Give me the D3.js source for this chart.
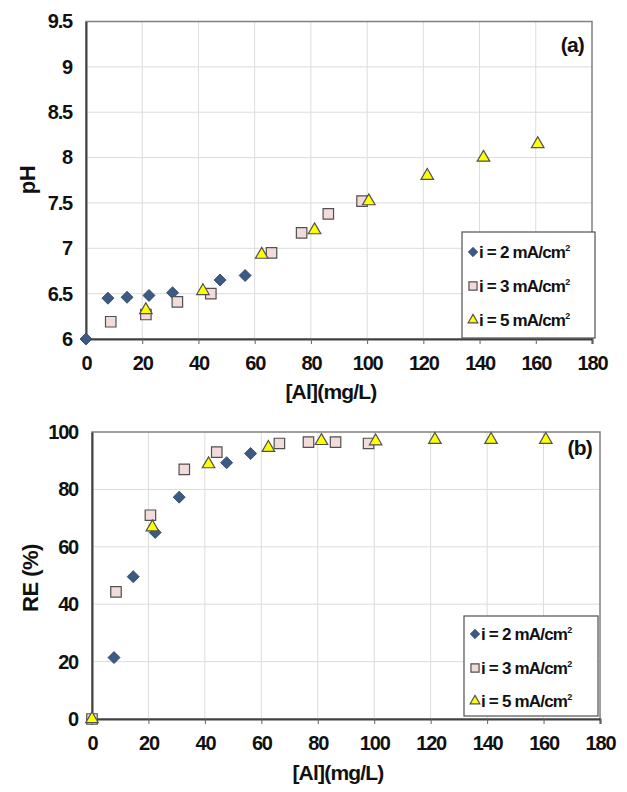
<!DOCTYPE html>
<html><head><meta charset="utf-8">
<script src="https://cdn.jsdelivr.net/npm/d3@7"></script>
<style>
body{margin:0;background:#fff;}
svg{display:block;}
text{font-family:"Liberation Sans",Arial,sans-serif;font-weight:bold;fill:#111;}
</style></head><body>
<svg id="c" width="627" height="792"></svg>
<script>
// ---- Data ----
const seriesNames = ["i = 2 mA/cm²", "i = 3 mA/cm²", "i = 5 mA/cm²"];
// Panel (a): pH vs [Al]
const phAl_i2 = [0, 7.8, 14.6, 22.4, 30.8, 47.7, 56.6];
const ph_i2   = [6.00, 6.45, 6.46, 6.48, 6.51, 6.65, 6.70];
const phAl_i3 = [8.8, 21.3, 32.5, 44.4, 66.0, 76.7, 86.2, 98.2];
const ph_i3   = [6.19, 6.27, 6.41, 6.50, 6.95, 7.17, 7.38, 7.52];
const phAl_i5 = [21.3, 41.6, 62.5, 81.3, 100.6, 121.4, 141.4, 160.7];
const ph_i5   = [6.32, 6.53, 6.93, 7.20, 7.52, 7.80, 8.00, 8.15];
// Panel (b): RE vs [Al]
const reAl_i2 = [0, 7.8, 14.6, 22.4, 30.9, 47.7, 56.2];
const re_i2   = [0, 21.4, 49.6, 65.0, 77.3, 89.3, 92.5];
const reAl_i3 = [0, 8.5, 20.7, 32.7, 44.2, 66.4, 76.7, 86.3, 98.0];
const re_i3   = [0, 44.3, 71.0, 87.0, 93.0, 96.0, 96.5, 96.5, 96.0];
const reAl_i5 = [0, 21.4, 41.3, 62.5, 81.3, 100.5, 121.5, 141.4, 160.8];
const re_i5   = [0, 66.8, 88.8, 94.5, 96.9, 96.8, 97.3, 97.3, 97.3];
// Ticks
const xTicks = [0,20,40,60,80,100,120,140,160,180];
const phTicks = [6,6.5,7,7.5,8,8.5,9,9.5];
const reTicks = [0,20,40,60,80,100];

const svg = d3.select("#c");
const zip = (xs, ys) => xs.map((x,i)=>({x, y: ys[i]}));

const markerStyles = [
  {type: d3.symbolSquare, size: 72, rot: 45, fill: "#3b5b84", stroke: "#2a4363", sw: 0.8},
  {type: d3.symbolSquare, size: 110, rot: 0, fill: "#f2dcdb", stroke: "#505050", sw: 1.2},
  {type: d3.symbolTriangle, size: 68, rot: 0, fill: "#ffff00", stroke: "#505050", sw: 1.2}
];

function drawPanel(cfg) {
  const x = d3.scaleLinear().domain([0,180]).range([cfg.left, cfg.right]);
  const y = d3.scaleLinear().domain(cfg.yDomain).range([cfg.bottom, cfg.top]);
  const g = svg.append("g");
  // gridlines
  g.append("g").selectAll("line").data(xTicks.slice(1,-1)).join("line")
    .attr("x1", d=>x(d)).attr("x2", d=>x(d)).attr("y1", cfg.top).attr("y2", cfg.bottom)
    .attr("stroke", "#dcdcdc").attr("stroke-width", 1);
  g.append("g").selectAll("line").data(cfg.yTicks.slice(1,-1)).join("line")
    .attr("x1", cfg.left).attr("x2", cfg.right).attr("y1", d=>y(d)).attr("y2", d=>y(d))
    .attr("stroke", "#dcdcdc").attr("stroke-width", 1);
  // frame (top/right)
  g.append("rect").attr("x", cfg.left).attr("y", cfg.top)
    .attr("width", cfg.right-cfg.left).attr("height", cfg.bottom-cfg.top)
    .attr("fill","none").attr("stroke","#808080").attr("stroke-width",1.5);
  // axes
  const xAxis = d3.axisBottom(x).tickValues(xTicks).tickSize(5).tickPadding(12).tickFormat(d3.format("d"));
  const xa = g.append("g").attr("transform", `translate(0,${cfg.bottom})`).call(xAxis);
  xa.select(".domain").attr("stroke","#404040").attr("stroke-width",2);
  xa.selectAll(".tick line").attr("stroke","#606060").attr("stroke-width",1);
  xa.selectAll("text").attr("font-size", 20).attr("letter-spacing", "-1.2")
    .attr("font-family", null).attr("fill","#111");
  const yAxis = d3.axisLeft(y).tickValues(cfg.yTicks).tickSize(0).tickPadding(cfg.yPad).tickFormat(cfg.yFmt);
  const ya = g.append("g").attr("transform", `translate(${cfg.left},0)`).call(yAxis);
  ya.select(".domain").attr("stroke","#404040").attr("stroke-width",2);
  ya.selectAll("text").attr("font-size", 20).attr("letter-spacing", "-1.2")
    .attr("font-family", null).attr("fill","#111");
  // axis titles
  g.append("text").attr("x", (cfg.left+cfg.right)/2 - 8).attr("y", cfg.xTitleY)
    .attr("text-anchor","middle").attr("font-size", 21).attr("letter-spacing", "-0.8").text("[Al](mg/L)");
  g.append("text").attr("transform", `translate(${cfg.yTitleX},${cfg.yTitleCY}) rotate(-90)`)
    .attr("text-anchor","middle").attr("font-size", 22).attr("letter-spacing", "-0.5").text(cfg.yTitle);
  // panel label
  g.append("text").attr("x", cfg.right - 8).attr("y", cfg.labelY).attr("text-anchor","end")
    .attr("font-size", 21).attr("letter-spacing", "-0.8").text(cfg.label);
  // series
  cfg.series.forEach((s, i) => {
    const m = markerStyles[i];
    g.append("g").selectAll("path").data(s).join("path")
      .attr("d", d3.symbol().type(m.type).size(m.size))
      .attr("transform", d => `translate(${x(d.x)},${y(d.y)}) rotate(${m.rot})`)
      .attr("fill", m.fill).attr("stroke", m.stroke).attr("stroke-width", m.sw);
  });
  // legend
  const L = cfg.legend;
  const lg = g.append("g");
  lg.append("rect").attr("x", L.x).attr("y", L.y).attr("width", L.w).attr("height", L.h)
    .attr("fill","#fff").attr("stroke","#505050").attr("stroke-width",1.2);
  seriesNames.forEach((name, i) => {
    const m = markerStyles[i];
    const cy = L.rows[i];
    lg.append("path").attr("d", d3.symbol().type(m.type).size(m.size*0.6))
      .attr("transform", `translate(${L.x+11},${cy}) rotate(${m.rot})`)
      .attr("fill", m.fill).attr("stroke", m.stroke).attr("stroke-width", m.sw);
    const t = lg.append("text").attr("x", L.x+17).attr("y", cy+6).attr("font-size", 17)
      .attr("letter-spacing", "-0.8");
    t.text(name.replace("²",""));
    t.append("tspan").attr("font-size", 9).attr("dy", -7).text("2");
  });
}

drawPanel({
  left: 86, right: 592, top: 21.5, bottom: 339,
  yDomain: [6, 9.5], yTicks: phTicks, yPad: 14, yFmt: d3.format("~g"),
  xTitleY: 399, yTitleX: 35, yTitleCY: 180, yTitle: "pH",
  label: "(a)", labelY: 52,
  series: [zip(phAl_i2, ph_i2), zip(phAl_i3, ph_i3), zip(phAl_i5, ph_i5)],
  legend: {x: 462, y: 232, w: 133, h: 106, rows: [252, 286, 320]}
});
drawPanel({
  left: 92, right: 600, top: 432, bottom: 719,
  yDomain: [0, 100], yTicks: reTicks, yPad: 14, yFmt: d3.format("d"),
  xTitleY: 780, yTitleX: 38, yTitleCY: 578, yTitle: "RE (%)",
  label: "(b)", labelY: 455,
  series: [zip(reAl_i2, re_i2), zip(reAl_i3, re_i3), zip(reAl_i5, re_i5)],
  legend: {x: 464, y: 616, w: 134, h: 100, rows: [634, 668, 701]}
});
</script>
</body></html>
